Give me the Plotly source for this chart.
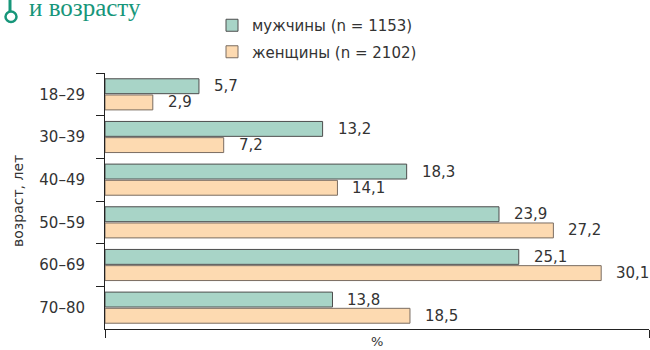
import plotly.graph_objects as go

categories = ["18–29", "30–39", "40–49", "50–59", "60–69", "70–80"]
men = [5.7, 13.2, 18.3, 23.9, 25.1, 13.8]
women = [2.9, 7.2, 14.1, 27.2, 30.1, 18.5]
men_name = "мужчины (n = 1153)"
women_name = "женщины (n = 2102)"

FONT = "DejaVu Sans"
TXT = "#333333"
GREEN = "#a8d4c7"
ORANGE = "#fddab1"

def fmt(v):
    return f"{v:.1f}".replace(".", ",")

fig = go.Figure()
fig.add_trace(go.Bar(
    y=categories, x=men, orientation="h", name=men_name, legendgroup="m",
    marker=dict(color=GREEN, line=dict(color="#4d4d4d", width=1)),
))
fig.add_trace(go.Bar(
    y=categories, x=women, orientation="h", name=women_name, legendgroup="w",
    marker=dict(color=ORANGE, line=dict(color="#7a6d62", width=1)),
))

annotations = []
for c, m, w in zip(categories, men, women):
    annotations.append(dict(x=m, y=c, text=fmt(m), xanchor="left", yanchor="middle",
                            xshift=13, yshift=8, showarrow=False,
                            font=dict(family=FONT, size=15, color=TXT)))
    annotations.append(dict(x=w, y=c, text=fmt(w), xanchor="left", yanchor="middle",
                            xshift=13, yshift=-8, showarrow=False,
                            font=dict(family=FONT, size=15, color=TXT)))

L, R, T, B = 105, 1, 73, 21
PW = 650 - L - R
PH = 350 - T - B

def px(xp):
    return (xp - L) / PW

def py(yp):
    return (350 - B - yp) / PH

annotations.append(dict(xref="paper", yref="paper", x=px(18), y=0.5, text="возраст, лет",
                        textangle=-90, showarrow=False, xanchor="center", yanchor="middle",
                        font=dict(family=FONT, size=14, color=TXT)))
annotations.append(dict(xref="paper", yref="paper", x=0.5, y=py(341), text="%",
                        showarrow=False, xanchor="center", yanchor="middle",
                        font=dict(family=FONT, size=13, color=TXT)))
annotations.append(dict(xref="paper", yref="paper", x=px(27), y=py(23), text="и возрасту",
                        showarrow=False, xanchor="left", yanchor="bottom",
                        font=dict(family="Liberation Serif", size=25, color="#17967a")))

shapes = [
    dict(type="line", xref="paper", yref="paper", x0=px(10), x1=px(10), y0=py(-2), y1=py(11),
         line=dict(color="#17967a", width=3)),
    dict(type="circle", xref="paper", yref="paper", x0=px(5.5), x1=px(16.5), y0=py(11.5), y1=py(22),
         line=dict(color="#17967a", width=2.5), fillcolor="white"),
]

fig.update_layout(
    width=650, height=350,
    margin=dict(l=L, r=R, t=T, b=B),
    paper_bgcolor="white", plot_bgcolor="white",
    barmode="group", bargap=0.24, bargroupgap=0.08,
    font=dict(family=FONT, size=15, color=TXT),
    showlegend=True,
    legend=dict(
        x=px(212), y=py(9), xanchor="left", yanchor="top",
        traceorder="grouped", tracegroupgap=4,
        font=dict(family=FONT, size=15, color=TXT),
        bgcolor="rgba(0,0,0,0)",
    ),
    xaxis=dict(
        range=[0, 33], showgrid=False, zeroline=False,
        showline=True, linecolor="#222222", linewidth=1,
        ticks="outside", ticklen=8, tickcolor="#222222",
        tickvals=[0, 33], showticklabels=False,
    ),
    yaxis=dict(
        autorange="reversed", showgrid=False, zeroline=False,
        showline=True, linecolor="#222222", linewidth=1,
        ticks="outside", ticklen=8, tickcolor="#222222", tickson="boundaries",
        ticklabelstandoff=16,
        tickfont=dict(family=FONT, size=15, color=TXT),
    ),
    annotations=annotations,
    shapes=shapes,
)

fig.write_html("out.html")
